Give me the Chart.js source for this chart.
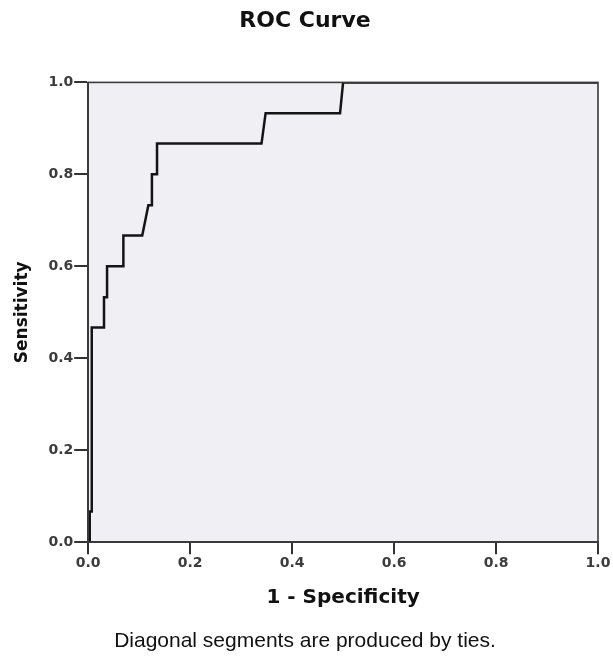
<!DOCTYPE html>
<html>
<head>
<meta charset="utf-8">
<script src="https://cdn.jsdelivr.net/npm/chart.js@4"></script>
<style>
    html, body { margin: 0; padding: 0; background: #ffffff; }
    #wrap { width: 613px; height: 657px; }
</style>
</head>
<body>
<div id="wrap"><canvas id="roc-js" width="613" height="657"></canvas></div>
<script>
// ROC curve steps (x = 1 - specificity, y = sensitivity)
const fpr = [0, 0.003, 0.003, 0.007, 0.007, 0.031, 0.031, 0.037, 0.037, 0.069, 0.069, 0.106, 0.118, 0.125, 0.125, 0.135, 0.135, 0.340, 0.348, 0.494, 0.500, 1.0];
const tpr = [0, 0, 0.067, 0.067, 0.467, 0.467, 0.533, 0.533, 0.600, 0.600, 0.667, 0.667, 0.733, 0.733, 0.800, 0.800, 0.867, 0.867, 0.933, 0.933, 1.0, 1.0];
const tickValues = [0, 0.2, 0.4, 0.6, 0.8, 1.0];

const WIDE = '"DejaVu Sans", Verdana, sans-serif';
const ARIAL = '"Liberation Sans", Arial, sans-serif';

// light panel behind the plot plus a box round it
const panel = {
    id: 'panel',
    beforeDraw(chart) {
        const a = chart.chartArea, ctx = chart.ctx;
        ctx.save();
        ctx.fillStyle = '#efeff4';
        ctx.fillRect(a.left, a.top, a.right - a.left, a.bottom - a.top);
        ctx.restore();
    },
    afterDraw(chart) {
        const a = chart.chartArea, ctx = chart.ctx;
        ctx.save();
        ctx.strokeStyle = '#3a3a3a';
        ctx.lineWidth = 1.6;
        ctx.strokeRect(a.left, a.top, a.right - a.left, a.bottom - a.top);
        ctx.restore();
    }
};

const axisTicks = {
    color: '#3c3c3c',
    font: { family: WIDE, size: 14, weight: 'bold' },
    padding: 1,
    callback: (v) => v.toFixed(1)
};

new Chart(document.getElementById('roc-js').getContext('2d'), {
    type: 'scatter',
    data: {
        datasets: [{
            label: 'ROC',
            data: fpr.map((x, i) => ({ x: x, y: tpr[i] })),
            showLine: true,
            borderColor: '#141414',
            borderWidth: 2.5,
            pointRadius: 0,
            fill: false
        }]
    },
    options: {
        responsive: false,
        animation: false,
        layout: { padding: { left: 12, right: 15, top: 0, bottom: 0 } },
        plugins: {
            legend: { display: false },
            tooltip: { enabled: false },
            title: {
                display: true,
                text: 'ROC Curve',
                color: '#111',
                font: { family: WIDE, size: 22, weight: 'bold' },
                padding: { top: 8, bottom: 48 }
            },
            subtitle: {
                display: true,
                position: 'bottom',
                text: 'Diagonal segments are produced by ties.',
                color: '#111',
                font: { family: ARIAL, size: 21 },
                padding: { top: 10.4, bottom: 3.4 }
            }
        },
        scales: {
            x: {
                type: 'linear',
                min: 0,
                max: 1,
                afterBuildTicks: (axis) => { axis.ticks = tickValues.map(v => ({ value: v })); },
                ticks: axisTicks,
                grid: { drawOnChartArea: false, drawTicks: true, tickLength: 12, color: '#333', lineWidth: 2 },
                border: { display: true, color: '#3a3a3a', width: 1.6 },
                title: {
                    display: true,
                    text: '1 - Specificity',
                    color: '#111',
                    font: { family: WIDE, size: 20, weight: 'bold' },
                    padding: { top: 13, bottom: 8 }
                }
            },
            y: {
                type: 'linear',
                min: 0,
                max: 1,
                afterBuildTicks: (axis) => { axis.ticks = tickValues.map(v => ({ value: v })); },
                ticks: Object.assign({}, axisTicks, { padding: 1 }),
                grid: { drawOnChartArea: false, drawTicks: true, tickLength: 14, color: '#333', lineWidth: 2 },
                border: { display: true, color: '#3a3a3a', width: 1.6 },
                title: {
                    display: true,
                    text: 'Sensitivity',
                    color: '#111',
                    font: { family: WIDE, size: 17, weight: 'bold' },
                    padding: { top: 0, bottom: 15 }
                }
            }
        }
    },
    plugins: [panel]
});
</script>
</body>
</html>
